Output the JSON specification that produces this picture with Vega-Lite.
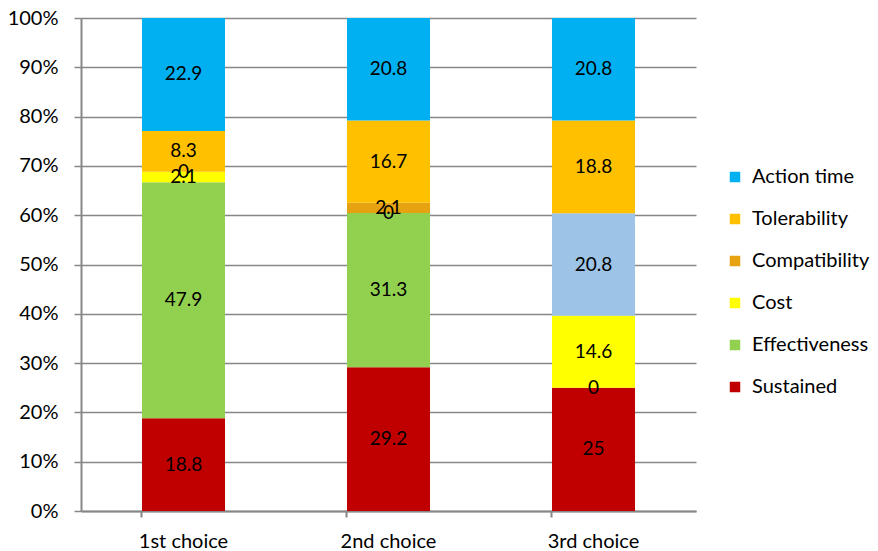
{
  "$schema": "https://vega.github.io/schema/vega-lite/v6.json",
  "autosize": {"type": "none"},
  "padding": {"left": 81, "top": 18, "right": 182, "bottom": 40},
  "width": 615,
  "height": 493,
  "background": "white",
  "config": {
    "font": "Lato",
    "view": {"stroke": null}
  },
  "data": {
    "values": [
      {"choice": "1st choice", "series": "Sustained", "value": 18.8},
      {"choice": "1st choice", "series": "Effectiveness", "value": 47.9},
      {"choice": "1st choice", "series": "Cost", "value": 2.1},
      {"choice": "1st choice", "series": "Compatibility", "value": 0},
      {"choice": "1st choice", "series": "Tolerability", "value": 8.3},
      {"choice": "1st choice", "series": "Action time", "value": 22.9},
      {"choice": "2nd choice", "series": "Sustained", "value": 29.2},
      {"choice": "2nd choice", "series": "Effectiveness", "value": 31.3},
      {"choice": "2nd choice", "series": "Cost", "value": 0},
      {"choice": "2nd choice", "series": "Compatibility", "value": 2.1},
      {"choice": "2nd choice", "series": "Tolerability", "value": 16.7},
      {"choice": "2nd choice", "series": "Action time", "value": 20.8},
      {"choice": "3rd choice", "series": "Sustained", "value": 25},
      {"choice": "3rd choice", "series": "Effectiveness", "value": 0},
      {"choice": "3rd choice", "series": "Cost", "value": 14.6},
      {"choice": "3rd choice", "series": "Compatibility", "value": 20.8},
      {"choice": "3rd choice", "series": "Tolerability", "value": 18.8},
      {"choice": "3rd choice", "series": "Action time", "value": 20.8}
    ]
  },
  "transform": [
    {"calculate": "datum.series === 'Sustained' ? 0 : datum.series === 'Effectiveness' ? 1 : datum.series === 'Cost' ? 2 : datum.series === 'Compatibility' ? 3 : datum.series === 'Tolerability' ? 4 : 5", "as": "k"},
    {"stack": "value", "groupby": ["choice"], "sort": [{"field": "k"}], "offset": "normalize", "as": ["y0", "y1"]},
    {"calculate": "(datum.y0 + datum.y1) / 2", "as": "ymid"}
  ],
  "encoding": {
    "x": {
      "field": "choice",
      "type": "nominal",
      "scale": {"paddingInner": 0.595, "paddingOuter": 0.2975},
      "axis": {
        "title": null,
        "labelAngle": 0,
        "labelFontSize": 20,
        "labelColor": "#000000",
        "labelPadding": 14,
        "domainColor": "#878787",
        "domainWidth": 2,
        "tickColor": "#878787",
        "tickWidth": 2,
        "tickSize": 6,
        "bandPosition": 0
      }
    }
  },
  "layer": [
    {
      "mark": {"type": "bar"},
      "encoding": {
        "y": {
          "field": "y0",
          "type": "quantitative",
          "scale": {"domain": [0, 1]},
          "axis": {
            "title": null,
            "format": ".0%",
            "values": [0, 0.1, 0.2, 0.3, 0.4, 0.5, 0.6, 0.7, 0.8, 0.9, 1],
            "labelFontSize": 20,
            "labelColor": "#000000",
            "labelPadding": 16,
            "grid": true,
            "gridColor": "#878787",
            "gridWidth": 1.5,
            "domainColor": "#878787",
            "domainWidth": 2,
            "tickColor": "#878787",
            "tickWidth": 1.5,
            "tickSize": 7
          }
        },
        "y2": {"field": "y1"},
        "color": {
          "condition": {
            "test": "datum.choice === '3rd choice' && datum.series === 'Compatibility'",
            "value": "#9DC3E6"
          },
          "field": "series",
          "type": "nominal",
          "scale": {
            "domain": ["Action time", "Tolerability", "Compatibility", "Cost", "Effectiveness", "Sustained"],
            "range": ["#00B0F0", "#FFC000", "#E6A210", "#FFFF00", "#92D050", "#C00000"]
          },
          "legend": {
            "title": null,
            "orient": "none",
            "legendX": 644,
            "legendY": 149,
            "symbolType": "square",
            "symbolSize": 110,
            "symbolStrokeWidth": 0,
            "labelFontSize": 20,
            "labelColor": "#000000",
            "labelOffset": 7,
            "rowPadding": 22
          }
        }
      }
    },
    {
      "mark": {"type": "text", "fontSize": 19, "color": "#000000", "baseline": "middle"},
      "encoding": {
        "y": {"field": "ymid", "type": "quantitative"},
        "text": {"field": "value", "type": "quantitative"}
      }
    }
  ]
}
